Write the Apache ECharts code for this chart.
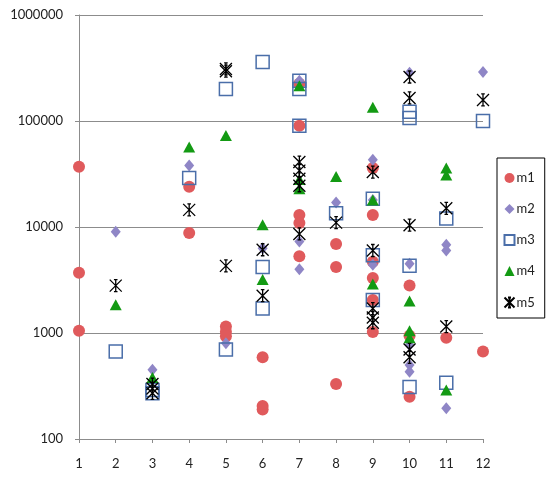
<!DOCTYPE html>
<html>
<head>
<meta charset="utf-8">
<script src="https://cdn.jsdelivr.net/npm/echarts@6/dist/echarts.min.js"></script>
<style>
  html, body { margin: 0; padding: 0; background: #fff; }
  #chart { width: 551px; height: 478px; }
</style>
</head>
<body>
<div id="chart"></div>
<script>
// x ticks and y range (log)
var xTicks = [1, 2, 3, 4, 5, 6, 7, 8, 9, 10, 11, 12];
var yTicks = [100, 1000, 10000, 100000, 1000000];

// series values [x, y]
var m1 = [[1, 37000], [1, 3700], [1, 1050], [4, 24000], [4, 8800],
  [5, 1150], [5, 1030], [5, 930], [6, 590], [6, 205], [6, 190],
  [7, 225000], [7, 90000], [7, 13000], [7, 10900], [7, 5300],
  [8, 6900], [8, 4200], [8, 330],
  [9, 36000], [9, 13000], [9, 4700], [9, 3300], [9, 2050], [9, 1020],
  [10, 2800], [10, 940], [10, 250], [11, 900], [12, 670]];
var m2 = [[2, 9000], [3, 450], [4, 38000], [5, 800], [6, 6300],
  [7, 240000], [7, 7300], [7, 4000], [8, 17000],
  [9, 43000], [9, 18000], [9, 4400],
  [10, 285000], [10, 4500], [10, 770], [10, 500], [10, 430],
  [11, 6800], [11, 6000], [11, 195], [12, 290000]];
var m3 = [[2, 670], [3, 290], [3, 270], [4, 29000], [5, 200000], [5, 700],
  [6, 360000], [6, 4200], [6, 1700], [7, 240000], [7, 200000], [7, 90000],
  [8, 13500], [9, 18500], [9, 5400], [9, 2050],
  [10, 122000], [10, 107000], [10, 4300], [10, 310],
  [11, 12000], [11, 340], [12, 100000]];
var m4 = [[2, 1850], [3, 380], [4, 57000], [5, 73000], [6, 10500], [6, 3200],
  [7, 215000], [7, 28000], [7, 23000], [8, 30000],
  [9, 135000], [9, 18000], [9, 2900],
  [10, 2000], [10, 1050], [10, 900],
  [11, 36000], [11, 31000], [11, 290]];
var m5 = [[2, 2800], [3, 330], [3, 300], [3, 270], [4, 14500],
  [5, 310000], [5, 295000], [5, 4300], [6, 6100], [6, 2250],
  [7, 41000], [7, 34000], [7, 28500], [7, 24500], [7, 8600], [8, 11000],
  [9, 33000], [9, 6000], [9, 1700], [9, 1400], [9, 1250],
  [10, 260000], [10, 165000], [10, 10400], [10, 700], [10, 590],
  [11, 15000], [11, 1150], [12, 158000]];

// excel style "star" marker
var starPath = "path://M0,0 L10,10 M10,0 L0,10 M5,0 L5,10 M3.5,0 L6.5,0 M3.5,10 L6.5,10";
var font = "Lato";

var chart = echarts.init(document.getElementById("chart"));

chart.setOption({
  animation: false,
  textStyle: { fontFamily: font },
  grid: { left: 79, right: 68, top: 15, bottom: 39 },
  legend: {
    orient: "vertical",
    left: 497,
    top: 158,
    width: 51,
    padding: [13, 10, 8, 5],
    itemGap: 17,
    itemWidth: 10,
    itemHeight: 10,
    borderColor: "#000",
    borderWidth: 1,
    textStyle: { fontFamily: font, fontSize: 13, color: "#222", lineHeight: 14, padding: [0, 0, 0, -3] },
    data: ["m1", "m2", "m3", "m4", "m5"]
  },
  xAxis: {
    type: "value",
    min: xTicks[0],
    max: xTicks[xTicks.length - 1],
    interval: 1,
    axisLine: { lineStyle: { color: "#8c8c8c", width: 1 } },
    axisTick: { show: true, length: 4, lineStyle: { color: "#8c8c8c" } },
    axisLabel: { color: "#222", fontSize: 13, margin: 18 },
    splitLine: { show: false }
  },
  yAxis: {
    type: "log",
    logBase: 10,
    min: yTicks[0],
    max: yTicks[yTicks.length - 1],
    axisLine: { show: true, lineStyle: { color: "#8c8c8c", width: 1 } },
    axisTick: { show: true, length: 4, lineStyle: { color: "#8c8c8c" } },
    axisLabel: {
      color: "#222",
      fontSize: 13,
      margin: 16,
      formatter: function (v) { return String(Math.round(v)); }
    },
    splitLine: { show: true, lineStyle: { color: "#8c8c8c", width: 1 } }
  },
  series: [
    {
      name: "m1", type: "scatter", data: m1,
      symbol: "circle", symbolSize: 12,
      itemStyle: { color: "#e05a5c", opacity: 1 }
    },
    {
      name: "m2", type: "scatter", data: m2,
      symbol: "diamond", symbolSize: [10, 12],
      itemStyle: { color: "#8f86c6", opacity: 1 }
    },
    {
      name: "m3", type: "scatter", data: m3,
      symbol: "rect", symbolSize: 13,
      itemStyle: { color: "rgba(255,255,255,0)", borderColor: "#4a6ea9", borderWidth: 1.5, opacity: 1 }
    },
    {
      name: "m4", type: "scatter", data: m4,
      symbol: "triangle", symbolSize: [12, 11],
      itemStyle: { color: "#139a13", opacity: 1 }
    },
    {
      name: "m5", type: "scatter", data: m5,
      symbol: starPath, symbolSize: 12,
      itemStyle: { color: "none", borderColor: "#000", borderWidth: 1.3, opacity: 1 }
    }
  ]
});
</script>
</body>
</html>
